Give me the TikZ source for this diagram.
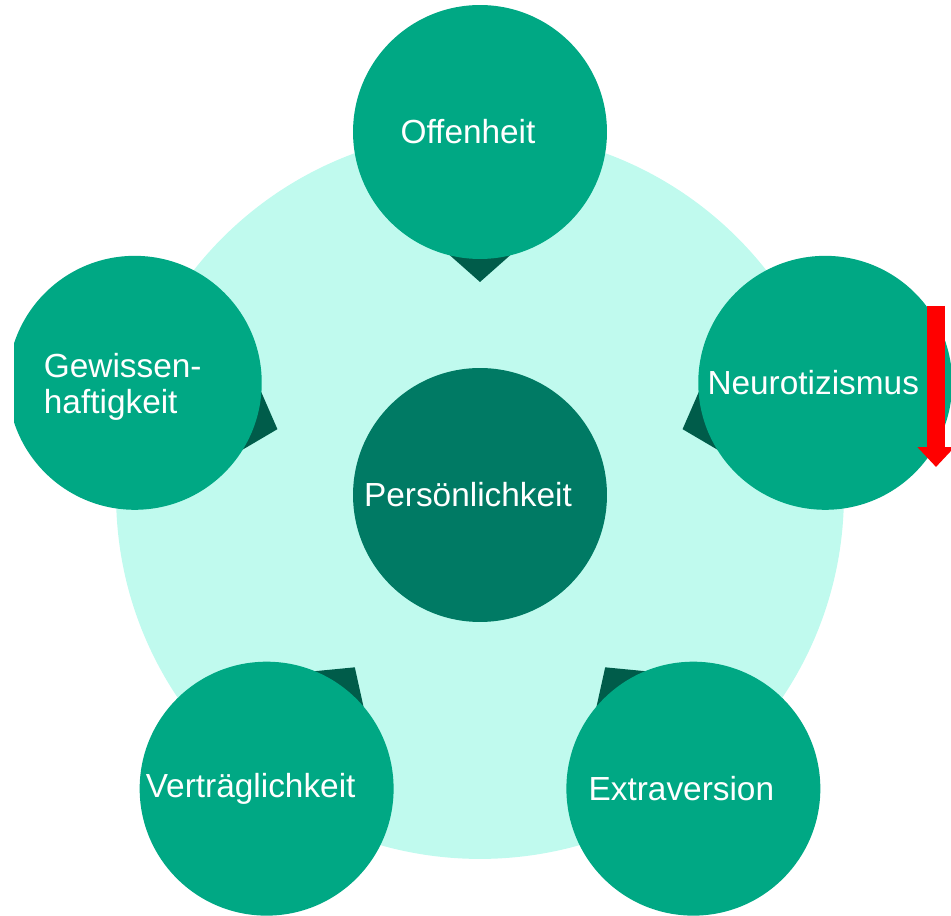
\documentclass[tikz,border=0pt]{standalone}
\usepackage{fontspec}
\setmainfont{Liberation Sans}
\usepackage{tikz}
\usetikzlibrary{calc,arrows.meta}
\definecolor{ringbg}{RGB}{192,250,238}
\definecolor{facetgreen}{RGB}{0,168,132}
\definecolor{coregreen}{RGB}{0,122,100}
\definecolor{pointergreen}{RGB}{0,92,74}
\tikzstyle{facet}=[circle, fill=facetgreen, minimum size=5.08cm, inner sep=0pt]
\tikzstyle{facettext}=[text=white, font=\fontsize{19}{20}\selectfont, xshift=-0.24cm, align=left]
\tikzstyle{ring}=[circle, fill=ringbg, minimum size=14.56cm, inner sep=0pt]

\begin{document}
\begin{tikzpicture}[x=0.02cm,y=0.02cm,>=latex]
    \useasboundingbox (0,0) rectangle (951,916);
    \clip (14,0) rectangle (951,916);
    \coordinate (P) at (480,421);
    \node (bg) [ring] at (P) {};
    % outer positions and their pointers
    \foreach \a/\n in {90/O,162/G,234/V,306/E,18/N}{
      \coordinate (\n) at ($(P)+(\a:363)$);
      \fill[pointergreen] ($(\n)+({\a+180}:150)$) -- ($(\n)+({\a+157.8}:119)$)
        -- ($(\n)+({\a+202.2}:119)$) -- cycle;
    }
    \node (off) [facet, label={[facettext]center:Offenheit}] at (O) {};
    \node (gew) [facet, label={[facettext, yshift=-0.08cm]center:Gewissen-\\haftigkeit}] at (G) {};
    \node (neu) [facet, label={[facettext]center:Neurotizismus}] at (N) {};
    \node (ver) [facet, label={[facettext, xshift=-0.08cm]center:Verträglichkeit}] at (V) {};
    \node (ext) [facet, label={[facettext]center:Extraversion}] at (E) {};
    \node (pers) [facet, fill=coregreen, label={[facettext]center:Persönlichkeit}] at (P) {};
    % red marker
    \coordinate (warnTop) at (936,610);
    \coordinate (warnEnd) at (936,449);
    \draw[red, line width=10.2pt, -{Triangle[width=20.4pt,length=11.3pt]}] (warnTop) -- (warnEnd);
  \end{tikzpicture}
\end{document}
